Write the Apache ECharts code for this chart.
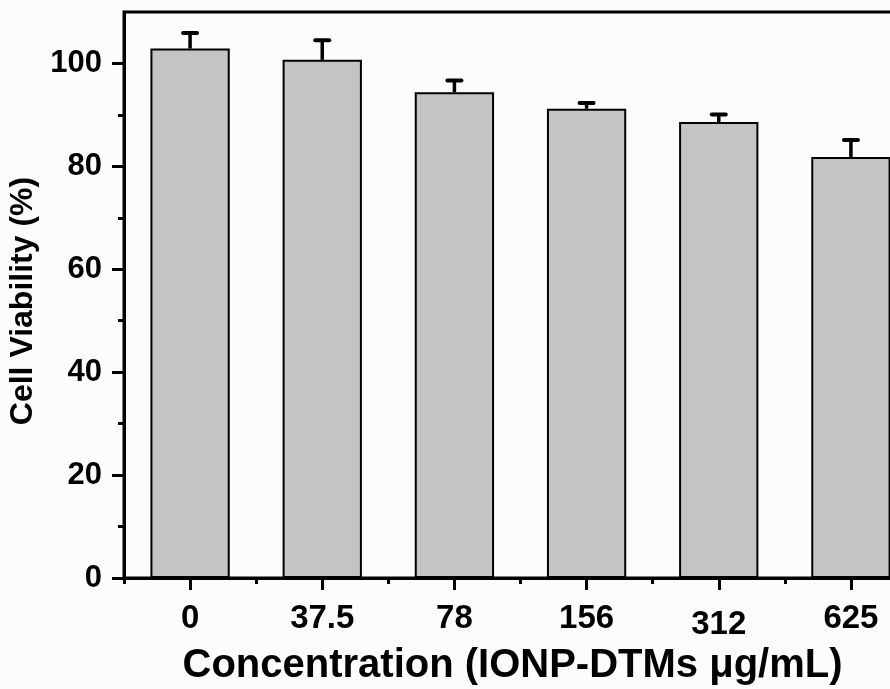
<!DOCTYPE html>
<html>
<head>
<meta charset="utf-8">
<script src="https://cdn.jsdelivr.net/npm/echarts@6/dist/echarts.min.js"></script>
<style>
  html, body { margin: 0; padding: 0; background: #fcfcfc; }
  #chart { width: 890px; height: 689px; }
</style>
</head>
<body>
<div id="chart"></div>
<script>
const categories = ['0', '37.5', '78', '156', '312', '625'];
const viability = [102.9, 100.7, 94.4, 91.2, 88.6, 81.8];
const errors = [3.0, 3.8, 2.3, 1.1, 1.5, 3.3];
const yTicks = [0, 20, 40, 60, 80, 100];
const yMinorTicks = [10, 30, 50, 70, 90];

const FONT = "'Liberation Sans', Arial, sans-serif";
const chart = echarts.init(document.getElementById('chart'), null, { renderer: 'canvas' });

const errData = viability.map((v, i) => [i, v, errors[i]]);

const option = {
  backgroundColor: '#fcfcfc',
  animation: false,
  grid: {
    left: 124, top: 12, width: 793, height: 566,
    containLabel: false, outerBoundsMode: 'none',
    show: true, borderColor: '#000', borderWidth: 3, backgroundColor: 'transparent'
  },
  xAxis: [
    {
      type: 'category', data: categories, position: 'bottom', offset: 0,
      axisLine: { show: true, lineStyle: { color: '#000', width: 3 } },
      axisTick: { show: true, alignWithLabel: true, length: 12, lineStyle: { color: '#000', width: 3 } },
      axisLabel: {
        interval: 0, hideOverlap: false,
        fontSize: 33, fontWeight: 'bold', color: '#000', fontFamily: FONT, margin: 24,
        formatter: function (v) { return v === '312' ? '{low|' + v + '}' : v; },
        rich: { low: { fontSize: 33, fontWeight: 'bold', color: '#000', fontFamily: FONT, padding: [6, 0, 0, 0] } }
      },
      name: 'Concentration (IONP-DTMs \u03bcg/mL)',
      nameLocation: 'middle', nameGap: 63,
      nameTextStyle: { fontSize: 40, fontWeight: 'bold', color: '#000', fontFamily: FONT, padding: [0, 16, 0, 0] }
    },
    {
      type: 'category', data: categories, position: 'bottom', offset: 0,
      axisLine: { show: false },
      axisTick: { show: true, alignWithLabel: false, interval: 0, length: 6, lineStyle: { color: '#000', width: 3 } },
      axisLabel: { show: false }
    }
  ],
  yAxis: [
    {
      type: 'value', min: 0, max: 110, position: 'left', offset: 0,
      axisLine: { show: true, lineStyle: { color: '#000', width: 3 } },
      axisTick: { show: true, customValues: yTicks, length: 12, lineStyle: { color: '#000', width: 3 } },
      axisLabel: { customValues: yTicks, fontSize: 31, fontWeight: 'bold', color: '#000', fontFamily: FONT, margin: 22 },
      splitLine: { show: false },
      name: 'Cell Viability (%)',
      nameLocation: 'middle', nameGap: 69,
      nameTextStyle: { fontSize: 32, fontWeight: 'bold', color: '#000', fontFamily: FONT, padding: [0, 12, 0, 0] }
    },
    {
      type: 'value', min: 0, max: 110, position: 'left', offset: 0,
      axisLine: { show: false },
      axisTick: { show: true, customValues: yMinorTicks, length: 6, lineStyle: { color: '#000', width: 3 } },
      axisLabel: { show: false },
      splitLine: { show: false }
    }
  ],
  series: [
    {
      type: 'bar', data: viability, xAxisIndex: 0, yAxisIndex: 0,
      barWidth: '60%',
      itemStyle: { color: '#c4c4c4', borderColor: '#000', borderWidth: 2 }
    },
    {
      type: 'custom', data: errData, xAxisIndex: 0, yAxisIndex: 0, z: 3,
      encode: { x: 0, y: 1 },
      renderItem: function (params, api) {
        const x = api.value(0), v = api.value(1), e = api.value(2);
        const base = api.coord([x, v]);
        const top = api.coord([x, v + e]);
        const half = 7;
        return {
          type: 'group',
          children: [
            { type: 'line', shape: { x1: base[0], y1: base[1], x2: top[0], y2: top[1] },
              style: { stroke: '#000', lineWidth: 3.5 } },
            { type: 'line', shape: { x1: top[0] - half, y1: top[1], x2: top[0] + half, y2: top[1] },
              style: { stroke: '#000', lineWidth: 4, lineCap: 'round' } }
          ]
        };
      }
    }
  ]
};
chart.setOption(option);
</script>
</body>
</html>
